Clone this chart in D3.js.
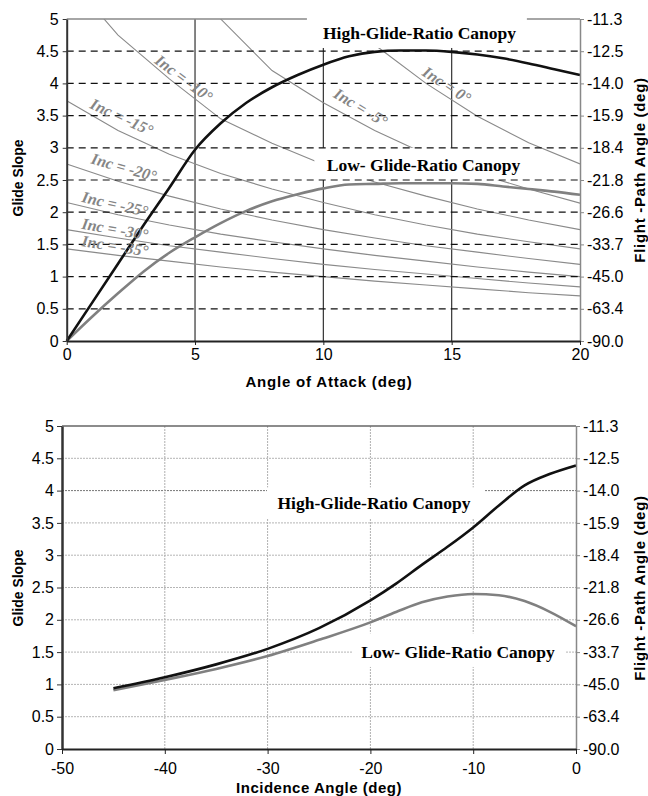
<!DOCTYPE html>
<html>
<head>
<script src="https://cdn.jsdelivr.net/npm/d3@7"></script>
<style>
  body { margin: 0; background: #fff; }
  svg { display: block; }
  .tick text { font-family: "Liberation Sans", Arial, sans-serif; font-size: 16px; fill: #000; }
  .title { font-family: "Liberation Sans", Arial, sans-serif; font-weight: bold; fill: #000; }
  .box-label { font-family: "Liberation Serif", "Times New Roman", serif; font-weight: bold; font-size: 17.5px; fill: #000; }
  .inc-label { font-family: "Liberation Serif", "Times New Roman", serif; font-weight: bold; font-style: italic; font-size: 16px; fill: #858585; }
</style>
</head>
<body>
<svg width="648" height="796"></svg>
<script>
// ---- data: top chart (glide slope vs angle of attack)
var aoa = [0,1,2,3,4,5,6,7,8,9,10,11,12,13,14,15,16,17,18,19,20];
var highAoa = [0,0.60,1.20,1.80,2.38,2.97,3.38,3.70,3.94,4.13,4.29,4.42,4.49,4.51,4.51,4.49,4.45,4.39,4.31,4.22,4.13];
var lowAoa  = [0,0.38,0.74,1.08,1.37,1.61,1.83,2.02,2.17,2.28,2.37,2.43,2.44,2.45,2.45,2.45,2.44,2.40,2.36,2.32,2.27];

// constant-incidence lines, sampled every 2 deg of angle of attack
var incAoa = [0,2,4,6,8,10,12,14,16,18,20];
var inc0   = [null,null,null,null,null,5.67,4.60,4.00,3.49,3.08,2.75];
var incM5  = [null,null,6.30,5.00,4.20,3.70,3.27,2.90,2.60,2.36,2.14];
var incM10 = [5.67,4.75,4.07,3.45,3.07,2.74,2.47,2.25,2.05,1.88,1.73];
var incM15 = [3.73,3.27,2.90,2.60,2.36,2.15,1.96,1.80,1.66,1.54,1.43];
var incM20 = [2.75,2.48,2.25,2.05,1.88,1.73,1.60,1.48,1.38,1.28,1.19];
var incM25 = [2.15,1.96,1.80,1.66,1.54,1.43,1.33,1.24,1.15,1.07,1.00];
var incM30 = [1.73,1.60,1.48,1.38,1.28,1.19,1.11,1.04,0.97,0.90,0.84];
var incM35 = [1.43,1.33,1.24,1.15,1.07,1.00,0.93,0.87,0.81,0.75,0.70];
var incSeries = [inc0, incM5, incM10, incM15, incM20, incM25, incM30, incM35];

// ---- data: bottom chart (glide slope vs incidence angle)
var incAngle = [-45,-40,-35,-30,-25,-20,-17.5,-15,-12.5,-10,-7.5,-5,-2.5,0];
var highInc  = [0.94,1.11,1.31,1.55,1.87,2.30,2.56,2.85,3.13,3.43,3.77,4.08,4.26,4.39];
var lowInc   = [0.91,1.07,1.24,1.44,1.69,1.96,2.12,2.27,2.36,2.40,2.38,2.29,2.12,1.90];

// ---- ticks
var gsTicks = [0,0.5,1,1.5,2,2.5,3,3.5,4,4.5,5];
var fpaLabels = ["-90.0","-63.4","-45.0","-33.7","-26.6","-21.8","-18.4","-15.9","-14.0","-12.5","-11.3"];
var aoaTicks = [0,5,10,15,20];
var incTicks = [-50,-40,-30,-20,-10,0];

var svg = d3.select("svg");
var plain = d => String(d);   // keep ASCII hyphen-minus like the original

function styleAxis(g, col, w) {
  g.select(".domain").attr("stroke", col).attr("stroke-width", w);
  g.selectAll(".tick line").attr("stroke", col).attr("stroke-width", 1);
}

// =================== TOP CHART ===================
var x1 = d3.scaleLinear().domain([0, 20]).range([66.7, 580]);
var y1 = d3.scaleLinear().domain([0, 5]).range([341, 19]);

svg.append("clipPath").attr("id", "clip1")
  .append("rect").attr("x", x1(0)).attr("y", y1(5)).attr("width", x1(20) - x1(0)).attr("height", y1(0) - y1(5));

var chart1 = svg.append("g");

// vertical grid
chart1.append("g").selectAll("line").data([5, 10, 15]).enter().append("line")
  .attr("x1", d => x1(d)).attr("x2", d => x1(d))
  .attr("y1", y1(5)).attr("y2", y1(0))
  .attr("stroke", "#333").attr("stroke-width", 1.2);

// top border
chart1.append("line").attr("x1", x1(0)).attr("x2", x1(20)).attr("y1", y1(5)).attr("y2", y1(5))
  .attr("stroke", "#888").attr("stroke-width", 1.5);

// incidence lines
var incLine = d3.line()
  .defined(d => d[1] != null)
  .x(d => x1(d[0])).y(d => y1(d[1]));
chart1.append("g").attr("clip-path", "url(#clip1)")
  .selectAll("path").data(incSeries).enter().append("path")
  .attr("d", s => incLine(incAoa.map((a, i) => [a, s[i]])))
  .attr("fill", "none").attr("stroke", "#8a8a8a").attr("stroke-width", 1.1);

// canopy curves
var curve1 = d3.line().curve(d3.curveMonotoneX).x(d => x1(d[0])).y(d => y1(d[1]));
chart1.append("path").attr("d", curve1(aoa.map((a, i) => [a, lowAoa[i]])))
  .attr("fill", "none").attr("stroke", "#808080").attr("stroke-width", 2.6);
chart1.append("path").attr("d", curve1(aoa.map((a, i) => [a, highAoa[i]])))
  .attr("fill", "none").attr("stroke", "#111").attr("stroke-width", 2.6);

// label boxes
chart1.append("rect").attr("x", x1(9.36)).attr("y", 8).attr("width", x1(17.93) - x1(9.36)).attr("height", y1(4.55) - 8)
  .attr("fill", "#fff");
chart1.append("rect").attr("x", x1(9.65)).attr("y", y1(3)).attr("width", x1(18.1) - x1(9.65)).attr("height", y1(2.5) - y1(3))
  .attr("fill", "#fff");

// dashed horizontal grid
chart1.append("g").selectAll("line").data([0.5, 1, 1.5, 2, 2.5, 3, 3.5, 4, 4.5]).enter().append("line")
  .attr("x1", x1(0)).attr("x2", x1(20))
  .attr("y1", d => y1(d)).attr("y2", d => y1(d))
  .attr("stroke", "#111").attr("stroke-width", 1.2).attr("stroke-dasharray", "7,5");

chart1.append("text").attr("class", "box-label").attr("x", 419.5).attr("y", 39).attr("text-anchor", "middle")
  .text("High-Glide-Ratio Canopy");
chart1.append("text").attr("class", "box-label").attr("x", 423.5).attr("y", 171).attr("text-anchor", "middle")
  .text("Low- Glide-Ratio Canopy");

// incidence labels
var incLabels = [
  { t: "Inc = 0°",   a: 14.81, g: 3.98, r: 33 },
  { t: "Inc = -5°",  a: 11.46, g: 3.63, r: 31 },
  { t: "Inc = -10°", a: 4.57,  g: 4.08, r: 37 },
  { t: "Inc = -15°", a: 2.15,  g: 3.48, r: 25 },
  { t: "Inc = -20°", a: 2.23,  g: 2.70, r: 16 },
  { t: "Inc = -25°", a: 1.88,  g: 2.13, r: 13 },
  { t: "Inc = -30°", a: 1.88,  g: 1.74, r: 10 },
  { t: "Inc = -35°", a: 1.88,  g: 1.48, r: 9 }
];
chart1.append("g").selectAll("text").data(incLabels).enter().append("text")
  .attr("class", "inc-label")
  .attr("text-anchor", "middle").attr("dy", "0.35em")
  .attr("transform", d => "translate(" + x1(d.a) + "," + y1(d.g) + ") rotate(" + d.r + ")")
  .text(d => d.t);

// axes
var l1 = chart1.append("g").attr("transform", "translate(" + x1(0) + ",0)")
  .call(d3.axisLeft(y1).tickValues(gsTicks).tickSize(4).tickSizeOuter(0).tickPadding(4).tickFormat(plain));
styleAxis(l1, "#333", 2);
var r1 = chart1.append("g").attr("transform", "translate(" + x1(20) + ",0)")
  .call(d3.axisRight(y1).tickValues(gsTicks).tickSize(4).tickSizeOuter(0).tickPadding(3).tickFormat((d, i) => fpaLabels[i]));
styleAxis(r1, "#888", 1.5);
var b1 = chart1.append("g").attr("transform", "translate(0," + y1(0) + ")")
  .call(d3.axisBottom(x1).tickValues(aoaTicks).tickSize(4).tickSizeOuter(0).tickPadding(4).tickFormat(plain));
styleAxis(b1, "#222", 2);

chart1.append("text").attr("class", "title").attr("x", 329).attr("y", 387).attr("text-anchor", "middle")
  .style("font-size", "15px").style("letter-spacing", "0.8px").text("Angle of Attack (deg)");
chart1.append("text").attr("class", "title").attr("transform", "translate(18,178) rotate(-90)")
  .attr("text-anchor", "middle").attr("dy", "0.35em").style("font-size", "14px").text("Glide Slope");
chart1.append("text").attr("class", "title").attr("transform", "translate(640,170) rotate(-90)")
  .attr("text-anchor", "middle").attr("dy", "0.35em").style("font-size", "15px").style("letter-spacing", "0.7px")
  .text("Flight -Path Angle (deg)");

// =================== BOTTOM CHART ===================
var x2 = d3.scaleLinear().domain([-50, 0]).range([62, 576]);
var y2 = d3.scaleLinear().domain([0, 5]).range([749, 426]);

var chart2 = svg.append("g");

// grid
chart2.append("g").selectAll("line").data([0.5, 1, 1.5, 2, 2.5, 3, 3.5, 4, 4.5]).enter().append("line")
  .attr("x1", x2(-50)).attr("x2", x2(0))
  .attr("y1", d => y2(d)).attr("y2", d => y2(d))
  .attr("stroke", d => d === 4 ? "#777" : "#b5b5b5").attr("stroke-width", 1).attr("stroke-dasharray", "2,1");
chart2.append("g").selectAll("line").data([-40, -30, -20, -10]).enter().append("line")
  .attr("x1", d => x2(d)).attr("x2", d => x2(d))
  .attr("y1", y2(5)).attr("y2", y2(0))
  .attr("stroke", "#b0b0b0").attr("stroke-width", 1).attr("stroke-dasharray", "2,1");

// top border
chart2.append("line").attr("x1", x2(-50)).attr("x2", x2(0)).attr("y1", y2(5)).attr("y2", y2(5))
  .attr("stroke", "#666").attr("stroke-width", 1.5);

// label boxes
chart2.append("rect").attr("x", x2(-30.06)).attr("y", y2(4.05)).attr("width", x2(-8.85) - x2(-30.06)).attr("height", y2(3.57) - y2(4.05))
  .attr("fill", "#fff");
chart2.append("rect").attr("x", x2(-21.7)).attr("y", y2(1.79)).attr("width", x2(-1.07) - x2(-21.7)).attr("height", y2(1.27) - y2(1.79))
  .attr("fill", "#fff");
chart2.append("text").attr("class", "box-label").attr("x", 374).attr("y", 509).attr("text-anchor", "middle")
  .text("High-Glide-Ratio Canopy");
chart2.append("text").attr("class", "box-label").attr("x", 458).attr("y", 658).attr("text-anchor", "middle")
  .text("Low- Glide-Ratio Canopy");

// curves
var curve2 = d3.line().curve(d3.curveMonotoneX).x(d => x2(d[0])).y(d => y2(d[1]));
chart2.append("path").attr("d", curve2(incAngle.map((a, i) => [a, lowInc[i]])))
  .attr("fill", "none").attr("stroke", "#808080").attr("stroke-width", 2.6);
chart2.append("path").attr("d", curve2(incAngle.map((a, i) => [a, highInc[i]])))
  .attr("fill", "none").attr("stroke", "#111").attr("stroke-width", 2.6);

// axes
var l2 = chart2.append("g").attr("transform", "translate(" + x2(-50) + ",0)")
  .call(d3.axisLeft(y2).tickValues(gsTicks).tickSize(5).tickSizeOuter(0).tickPadding(3).tickFormat(plain));
styleAxis(l2, "#333", 2.5);
var r2 = chart2.append("g").attr("transform", "translate(" + x2(0) + ",0)")
  .call(d3.axisRight(y2).tickValues(gsTicks).tickSize(4).tickSizeOuter(0).tickPadding(3).tickFormat((d, i) => fpaLabels[i]));
styleAxis(r2, "#888", 1.5);
var b2 = chart2.append("g").attr("transform", "translate(0," + y2(0) + ")")
  .call(d3.axisBottom(x2).tickValues(incTicks).tickSize(5).tickSizeOuter(0).tickPadding(9).tickFormat(plain));
styleAxis(b2, "#222", 2);

chart2.append("text").attr("class", "title").attr("x", 319).attr("y", 793).attr("text-anchor", "middle")
  .style("font-size", "15px").style("letter-spacing", "0.5px").text("Incidence Angle (deg)");
chart2.append("text").attr("class", "title").attr("transform", "translate(18,588) rotate(-90)")
  .attr("text-anchor", "middle").attr("dy", "0.35em").style("font-size", "14px").text("Glide Slope");
chart2.append("text").attr("class", "title").attr("transform", "translate(640,588) rotate(-90)")
  .attr("text-anchor", "middle").attr("dy", "0.35em").style("font-size", "15px").style("letter-spacing", "0.7px")
  .text("Flight -Path Angle (deg)");
</script>
</body>
</html>
